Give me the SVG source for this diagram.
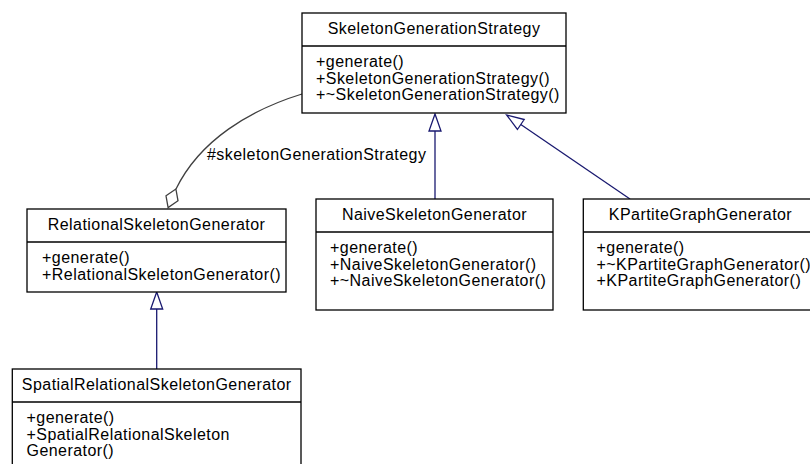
<svg xmlns="http://www.w3.org/2000/svg" width="810" height="464" viewBox="0 0 810 464">
<style>
  .box { fill: #ffffff; stroke: #000000; stroke-width: 1.3; }
  .sep { stroke: #000000; stroke-width: 1.3; }
  text { font-family: "Liberation Sans", Arial, sans-serif; font-size: 16px; letter-spacing: 0.45px; fill: #000000; }
  .t { text-anchor: middle; }
  .inh { fill: none; stroke: #191970; stroke-width: 1.3; }
  .inhhead { fill: #ffffff; stroke: #191970; stroke-width: 1.3; }
  .assoc { fill: none; stroke: #404040; stroke-width: 1.3; }
  .dia { fill: #ffffff; stroke: #404040; stroke-width: 1.3; }
</style>
<rect width="810" height="464" fill="#ffffff"/>
<g id="connectors">
  <path class="assoc" d="M302,94 C250,110 200,140 176,189"/>
  <polygon class="dia" points="175.9,189 178,200.8 168.1,207.6 166,195.8"/>
  <text x="207" y="160">#skeletonGenerationStrategy</text>
  <line class="inh" x1="435" y1="199" x2="435" y2="131"/>
  <polygon class="inhhead" points="435,114 429,131 441,131"/>
  <line class="inh" x1="630" y1="199" x2="520.8" y2="124.5"/>
  <polygon class="inhhead" points="506.7,115 517.4,129.5 524.2,119.5"/>
  <line class="inh" x1="156.7" y1="369" x2="156.7" y2="309"/>
  <polygon class="inhhead" points="156.7,292 150.7,309 162.7,309"/>
</g>
<g id="SkeletonGenerationStrategy">
  <rect class="box" x="302" y="13" width="264" height="100"/>
  <line class="sep" x1="302" y1="46" x2="566" y2="46"/>
  <text class="t" x="434" y="33.5">SkeletonGenerationStrategy</text>
  <text x="316" y="67">+generate()</text>
  <text x="316" y="83.5">+SkeletonGenerationStrategy()</text>
  <text x="316" y="100">+~SkeletonGenerationStrategy()</text>
</g>
<g id="RelationalSkeletonGenerator">
  <rect class="box" x="27" y="209" width="259" height="83"/>
  <line class="sep" x1="27" y1="242" x2="286" y2="242"/>
  <text class="t" x="156.5" y="229.5">RelationalSkeletonGenerator</text>
  <text x="42" y="263">+generate()</text>
  <text x="42" y="279.5">+RelationalSkeletonGenerator()</text>
</g>
<g id="NaiveSkeletonGenerator">
  <rect class="box" x="316" y="199" width="237" height="111"/>
  <line class="sep" x1="316" y1="232" x2="553" y2="232"/>
  <text class="t" x="434.5" y="219.5">NaiveSkeletonGenerator</text>
  <text x="330" y="253">+generate()</text>
  <text x="330" y="269.5">+NaiveSkeletonGenerator()</text>
  <text x="330" y="286">+~NaiveSkeletonGenerator()</text>
</g>
<g id="KPartiteGraphGenerator">
  <rect class="box" x="583.3" y="199" width="234.4" height="111"/>
  <line class="sep" x1="583.3" y1="232" x2="817.7" y2="232"/>
  <text class="t" x="700.5" y="219.5">KPartiteGraphGenerator</text>
  <text x="596.5" y="253">+generate()</text>
  <text x="596.5" y="269.5">+~KPartiteGraphGenerator()</text>
  <text x="596.5" y="286">+KPartiteGraphGenerator()</text>
</g>
<g id="SpatialRelationalSkeletonGenerator">
  <rect class="box" x="12.3" y="369" width="288.7" height="100"/>
  <line class="sep" x1="12.3" y1="402" x2="301" y2="402"/>
  <text class="t" x="156.7" y="389.5">SpatialRelationalSkeletonGenerator</text>
  <text x="26.5" y="423">+generate()</text>
  <text x="26.5" y="439.5">+SpatialRelationalSkeleton</text>
  <text x="26.5" y="456">Generator()</text>
</g>
</svg>
